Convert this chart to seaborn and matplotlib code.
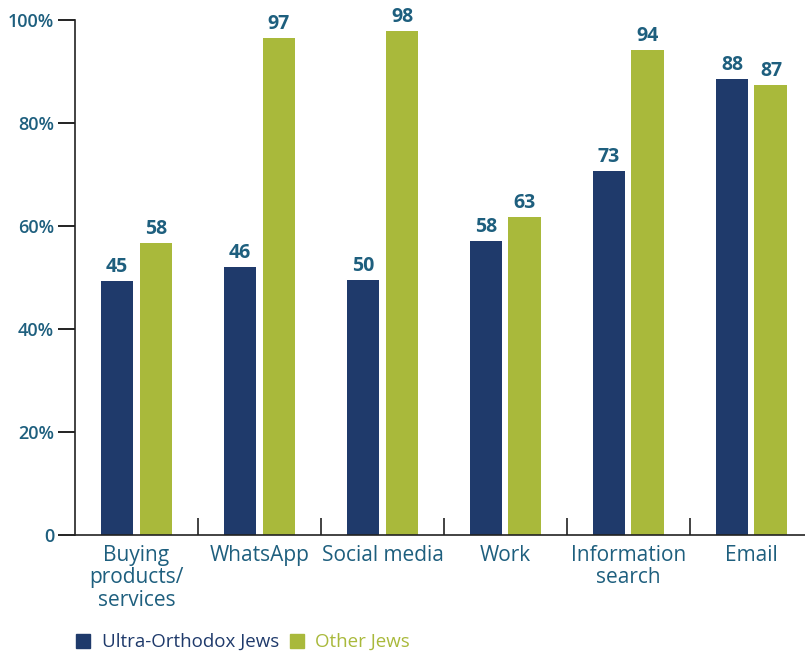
import pandas as pd
import matplotlib.pyplot as plt
import seaborn as sns
from matplotlib.patches import Patch

categories = ["Buying\nproducts/\nservices", "WhatsApp", "Social media", "Work", "Information\nsearch", "Email"]
groups = ["Ultra-Orthodox Jews", "Other Jews"]
# bar heights as drawn in the picture
ultra_heights = [49.3, 52.0, 49.5, 57.1, 70.7, 88.5]
other_heights = [56.7, 96.5, 97.9, 61.7, 94.2, 87.4]
# printed value labels
ultra_labels = ["45", "46", "50", "58", "73", "88"]
other_labels = ["58", "97", "98", "63", "94", "87"]
yticks = [0, 20, 40, 60, 80, 100]
ytick_labels = ["0", "20%", "40%", "60%", "80%", "100%"]

navy = "#1f3a6b"
green = "#a9b93b"
teal = "#1e5f7e"
axis_col = "#222222"

df = pd.DataFrame({
    "category": categories * 2,
    "group": [groups[0]] * 6 + [groups[1]] * 6,
    "value": ultra_heights + other_heights,
})

sns.set_style("ticks")
plt.rcParams["font.family"] = ["Open Sans", "DejaVu Sans"]

fig = plt.figure(figsize=(8.05, 6.52), dpi=100)
ax = fig.add_axes([75 / 805, 117 / 652, 730 / 805, 515 / 652])

sns.barplot(data=df, x="category", y="value", hue="group", hue_order=groups,
            palette=[navy, green], width=0.634, gap=0.154, saturation=1,
            edgecolor="none", linewidth=0, legend=False, ax=ax)

for cont, labs in zip(ax.containers, [ultra_labels, other_labels]):
    ax.bar_label(cont, labels=labs, padding=3, color=teal, fontsize=14, fontweight="bold")

ax.set_ylim(0, 100)
ax.set_xlim(-0.5, 5.435)
ax.set_yticks(yticks)
ax.set_yticklabels(ytick_labels, color=teal, fontsize=13, fontweight="semibold")
ax.tick_params(axis="y", which="major", left=True, direction="out", length=12, width=1.2,
               color=axis_col, pad=3)
ax.set_xticks(range(6))
ax.set_xticklabels(categories, color=teal, fontsize=15, linespacing=1.1)
ax.tick_params(axis="x", which="major", length=0, pad=7)
ax.set_xticks([0.5, 1.5, 2.5, 3.5, 4.5], minor=True)
ax.tick_params(axis="x", which="minor", bottom=True, direction="in", length=12, width=1.2, color=axis_col)
ax.set_xlabel("")
ax.set_ylabel("")

# y tick marks drawn outside the axes box (the native ones were not showing)
tick_len = 17 / 730
for y in yticks:
    ax.plot([-tick_len, 0], [y, y], transform=ax.get_yaxis_transform(), color=axis_col,
            lw=1.2, clip_on=False, solid_capstyle="butt")

for s in ["top", "right"]:
    ax.spines[s].set_visible(False)
for s in ["left", "bottom"]:
    ax.spines[s].set_color(axis_col)
    ax.spines[s].set_linewidth(1.2)

handles = [Patch(color=navy), Patch(color=green)]
leg = fig.legend(handles, groups, loc="lower left", bbox_to_anchor=(65 / 805, -0.016),
                 ncol=2, frameon=False, fontsize=13.5, handlelength=0.75, handleheight=0.75,
                 handletextpad=0.6, columnspacing=0.6, borderaxespad=0.2)
for t, c in zip(leg.get_texts(), [navy, green]):
    t.set_color(c)

fig.savefig("out.png", dpi=100)
